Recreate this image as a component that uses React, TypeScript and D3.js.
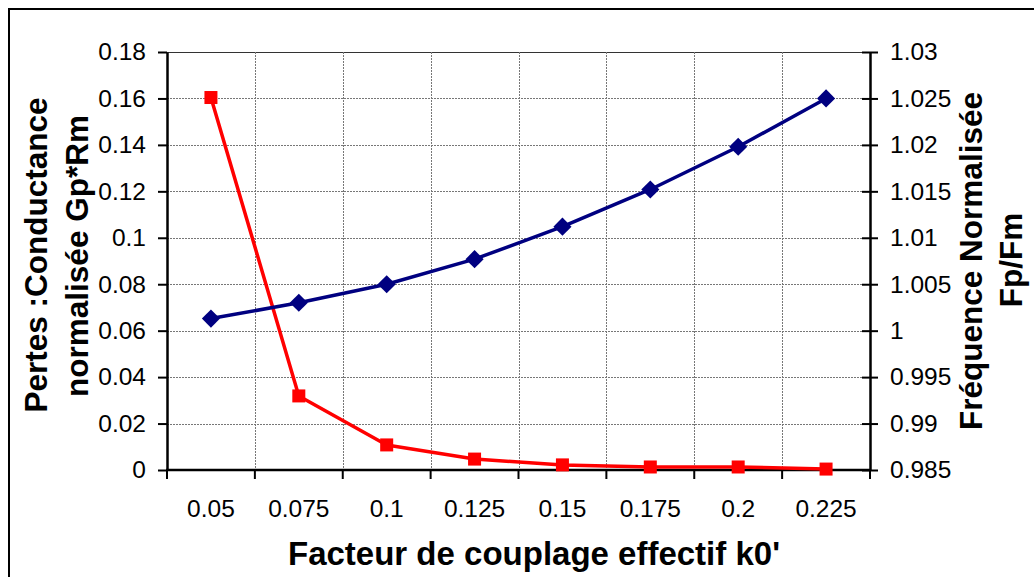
import React, { useRef, useEffect } from 'react';
import * as d3 from 'd3';

const categories = ['0.05', '0.075', '0.1', '0.125', '0.15', '0.175', '0.2', '0.225'];
const pertes = [0.1604, 0.0319, 0.0108, 0.0047, 0.0022, 0.0013, 0.0013, 0.0004];
const frequence = [1.0013, 1.003, 1.005, 1.0077, 1.0112, 1.0152, 1.0198, 1.025];
const leftTicks = [0, 0.02, 0.04, 0.06, 0.08, 0.1, 0.12, 0.14, 0.16, 0.18];
const rightTicks = [0.985, 0.99, 0.995, 1, 1.005, 1.01, 1.015, 1.02, 1.025, 1.03];

const WIDTH = 1034;
const HEIGHT = 577;
const FONT = '"Liberation Sans", Arial, sans-serif';

export default function App() {
  const svgRef = useRef<SVGSVGElement>(null);

  useEffect(() => {
    if (!svgRef.current) return;
    const svg = d3.select(svgRef.current);
    svg.selectAll('*').remove();

    const plot = { left: 167, right: 870, top: 52, bottom: 470 };

    const x = d3.scaleBand().domain(categories).range([plot.left, plot.right]).padding(0);
    const yLeft = d3.scaleLinear().domain([0, 0.18]).range([plot.bottom, plot.top]);
    const yRight = d3.scaleLinear().domain([0.985, 1.03]).range([plot.bottom, plot.top]);
    const cx = (c: string) => (x(c) || 0) + x.bandwidth() / 2;

    // outer chart frame (right and bottom edges run off the picture)
    svg.append('rect')
      .attr('x', 9).attr('y', 9)
      .attr('width', WIDTH + 20).attr('height', HEIGHT + 20)
      .attr('fill', 'white')
      .attr('stroke', '#000')
      .attr('stroke-width', 2);

    // horizontal gridlines
    svg.append('g')
      .selectAll('line')
      .data(leftTicks.slice(1))
      .enter()
      .append('line')
      .attr('x1', plot.left).attr('x2', plot.right)
      .attr('y1', d => Math.round(yLeft(d)) + 0.5)
      .attr('y2', d => Math.round(yLeft(d)) + 0.5)
      .attr('stroke', d => (d === 0.18 ? '#333' : '#777'))
      .attr('stroke-width', 1)
      .attr('stroke-dasharray', d => (d === 0.18 ? null : '2,1'));

    // vertical gridlines at category boundaries
    svg.append('g')
      .selectAll('line')
      .data(categories.slice(1))
      .enter()
      .append('line')
      .attr('x1', d => Math.round(x(d) || 0) + 0.5)
      .attr('x2', d => Math.round(x(d) || 0) + 0.5)
      .attr('y1', plot.top).attr('y2', plot.bottom)
      .attr('stroke', '#777')
      .attr('stroke-width', 1)
      .attr('stroke-dasharray', '2,1');

    // left axis
    const gl = svg.append('g')
      .attr('transform', `translate(${plot.left},0)`)
      .call(d3.axisLeft(yLeft).tickValues(leftTicks).tickSize(9).tickSizeOuter(0).tickPadding(12)
        .tickFormat(d => String(+(+d).toFixed(2))));
    gl.select('.domain').attr('stroke-width', 2.5);
    gl.selectAll('.tick line').attr('stroke-width', 2);
    gl.selectAll('text').attr('font-family', FONT).attr('font-size', 24.5).attr('fill', '#000');

    // right axis with crossing ticks
    const gr = svg.append('g')
      .attr('transform', `translate(${plot.right},0)`)
      .call(d3.axisRight(yRight).tickValues(rightTicks).tickSize(8).tickSizeOuter(0).tickPadding(12)
        .tickFormat(d => String(+(+d).toFixed(3))));
    gr.select('.domain').attr('stroke-width', 2.5);
    gr.selectAll('.tick line').attr('x1', -8).attr('x2', 8).attr('stroke-width', 2);
    gr.selectAll('text').attr('font-family', FONT).attr('font-size', 24.5).attr('fill', '#000');

    // bottom axis, ticks at category boundaries
    const gb = svg.append('g')
      .attr('transform', `translate(0,${plot.bottom})`);
    gb.append('line')
      .attr('x1', plot.left - 1).attr('x2', plot.right + 1)
      .attr('stroke', '#000').attr('stroke-width', 2.5);
    const bounds = [...categories.map(c => x(c) || 0), plot.right];
    gb.selectAll('.bt')
      .data(bounds)
      .enter()
      .append('line')
      .attr('x1', d => d).attr('x2', d => d)
      .attr('y1', 0).attr('y2', 9)
      .attr('stroke', '#000').attr('stroke-width', 2);
    gb.selectAll('.bl')
      .data(categories)
      .enter()
      .append('text')
      .attr('x', d => cx(d))
      .attr('y', 47)
      .attr('text-anchor', 'middle')
      .attr('font-family', FONT).attr('font-size', 24.5)
      .text(d => d);

    // red series: pertes (left axis)
    const redLine = d3.line<number>()
      .x((_, i) => cx(categories[i]))
      .y(d => yLeft(d));
    svg.append('path')
      .datum(pertes)
      .attr('d', redLine)
      .attr('fill', 'none')
      .attr('stroke', '#FF0000')
      .attr('stroke-width', 3.5)
      .attr('stroke-linejoin', 'round');
    svg.append('g')
      .selectAll('rect')
      .data(pertes)
      .enter()
      .append('rect')
      .attr('x', (_, i) => cx(categories[i]) - 6.5)
      .attr('y', d => yLeft(d) - 6.5)
      .attr('width', 13).attr('height', 13)
      .attr('fill', '#FF0000');

    // blue series: frequence (right axis)
    const blueLine = d3.line<number>()
      .x((_, i) => cx(categories[i]))
      .y(d => yRight(d));
    svg.append('path')
      .datum(frequence)
      .attr('d', blueLine)
      .attr('fill', 'none')
      .attr('stroke', '#000080')
      .attr('stroke-width', 3.5)
      .attr('stroke-linejoin', 'round');
    svg.append('g')
      .selectAll('path')
      .data(frequence)
      .enter()
      .append('path')
      .attr('d', d3.symbol().type(d3.symbolDiamond2).size(210)())
      .attr('transform', (d, i) => `translate(${cx(categories[i])},${yRight(d)})`)
      .attr('fill', '#000080');

    // axis titles
    const title = (tx: number, ty: number, rot: number, txt: string, size: number) =>
      svg.append('text')
        .attr('transform', `translate(${tx},${ty}) rotate(${rot})`)
        .attr('text-anchor', 'middle')
        .attr('font-family', FONT)
        .attr('font-size', size)
        .attr('font-weight', 'bold')
        .text(txt);

    title(534, 565, 0, "Facteur de couplage effectif k0'", 33);
    title(47, 255, -90, 'Pertes :Conductance', 31.5);
    title(88, 256, -90, 'normalisée Gp*Rm', 31.5);
    title(982, 261, -90, 'Fréquence Normalisée', 31.5);
    title(1022, 260, -90, 'Fp/Fm', 31.5);
  }, []);

  return (
    <svg
      ref={svgRef}
      width={WIDTH}
      height={HEIGHT}
      style={{ position: 'absolute', left: 0, top: 0, background: 'white' }}
    />
  );
}
